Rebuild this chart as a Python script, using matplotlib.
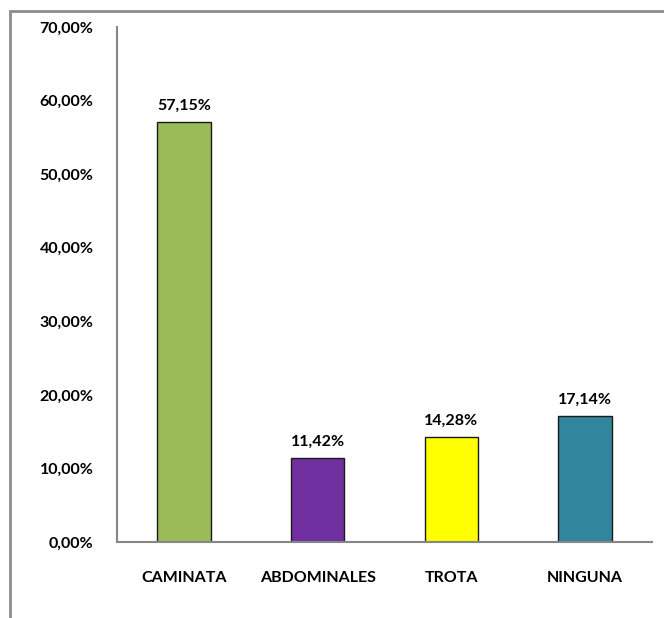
import numpy as np
import matplotlib.pyplot as plt
from matplotlib.patches import Rectangle
from matplotlib.ticker import FuncFormatter

categories = ['CAMINATA', 'ABDOMINALES', 'TROTA', 'NINGUNA']
values = [57.15, 11.42, 14.28, 17.14]
colors = ['#9BBB59', '#7030A0', '#FFFF00', '#31859C']
y_ticks = [0, 10, 20, 30, 40, 50, 60, 70]

plt.rcParams['font.family'] = ['Lato', 'DejaVu Sans']
plt.rcParams['font.weight'] = 'bold'

fig = plt.figure(figsize=(6.64, 6.18), dpi=100)
# chart frame (open to the right and bottom)
fig.patches.append(Rectangle((10/664, -0.2), 1.2, 1 - 11/618 + 0.2,
                             transform=fig.transFigure, fill=False,
                             edgecolor='#8C8C8C', linewidth=2))

ax = fig.add_axes([117/664, 1 - 542/618, (652 - 117)/664, (542 - 27)/618])
x = np.arange(len(categories))
ax.bar(x, values, width=0.40, color=colors, edgecolor='#1a1a1a', linewidth=1)

for xi, v in zip(x, values):
    ax.text(xi, v + 2.2, ('%.2f%%' % v).replace('.', ','), ha='center',
            va='center', fontsize=11.5, fontweight='bold')

ax.set_xlim(-0.5, len(categories) - 0.5)
ax.set_ylim(0, 70)
ax.set_yticks(y_ticks)
ax.yaxis.set_major_formatter(FuncFormatter(lambda v, p: ('%.2f%%' % v).replace('.', ',')))
ax.set_xticks(x)
ax.set_xticklabels(categories)
ax.tick_params(axis='both', length=0, labelsize=11.5)
ax.tick_params(axis='y', pad=17)
ax.tick_params(axis='x', pad=21)
for lbl in ax.get_xticklabels() + ax.get_yticklabels():
    lbl.set_fontweight('bold')

for side in ['top', 'right']:
    ax.spines[side].set_visible(False)
for side in ['left', 'bottom']:
    ax.spines[side].set_color('#868686')
    ax.spines[side].set_linewidth(1.5)

fig.savefig('out.png', dpi=100)
